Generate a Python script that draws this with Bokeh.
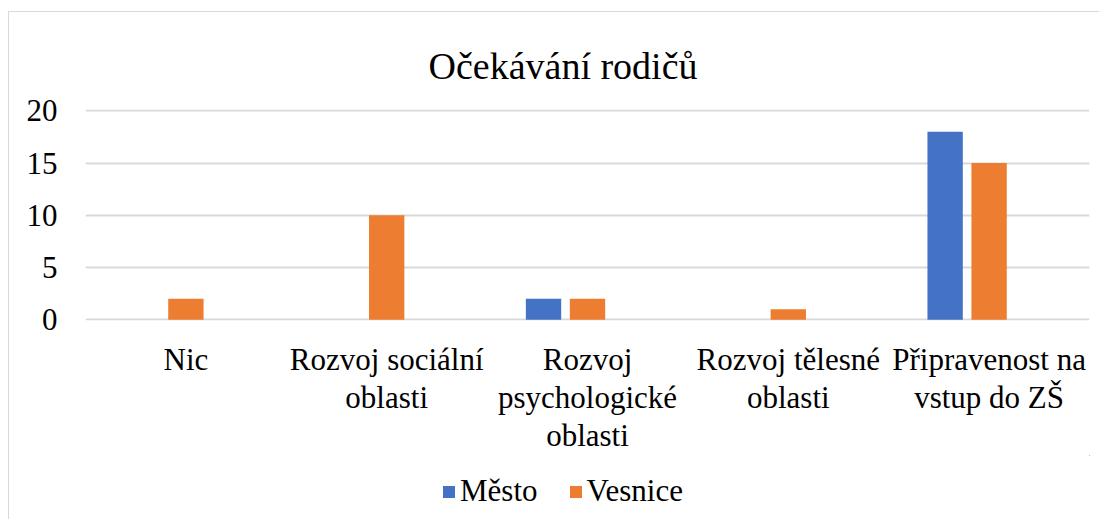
from bokeh.plotting import figure
from bokeh.models import ColumnDataSource, Range1d, FixedTicker, LinearAxis
from bokeh.layouts import column
from bokeh.transform import dodge
from bokeh.embed import file_html
from bokeh.resources import INLINE

categories = ["Nic", "Rozvoj sociální oblasti", "Rozvoj psychologické oblasti",
              "Rozvoj tělesné oblasti", "Připravenost na vstup do ZŠ"]
category_lines = [["Nic"], ["Rozvoj sociální", "oblasti"], ["Rozvoj", "psychologické", "oblasti"],
                  ["Rozvoj tělesné", "oblasti"], ["Připravenost na", "vstup do ZŠ"]]
mesto = [0, 0, 2, 0, 18]
vesnice = [2, 10, 2, 1, 15]
series_names = ["Město", "Vesnice"]
series_colors = ["#4472C4", "#ED7D31"]
y_ticks = [0, 5, 10, 15, 20]
title_text = "Očekávání rodičů"

FONT = "Liberation Serif"

n = len(categories)
centers = [i + 0.5 for i in range(n)]  # slot centre of each category on the x scale
source = ColumnDataSource(data=dict(pos=centers, cat=categories, mesto=mesto, vesnice=vesnice))

p = figure(
    x_range=Range1d(0, n),
    y_range=Range1d(-0.07, 20.12),
    width=1090, height=443,
    output_backend="svg", toolbar_location=None, x_axis_location=None,
    min_border_left=76, min_border_right=10, min_border_top=97, min_border_bottom=134,
)

p.vbar(x=dodge("pos", -0.219), top="mesto", width=0.176, source=source,
       fill_color=series_colors[0], line_color=None)
p.vbar(x=dodge("pos", 0.0), top="vesnice", width=0.176, source=source,
       fill_color=series_colors[1], line_color=None)

p.outline_line_color = None
p.background_fill_color = "white"
p.border_fill_color = "white"

p.xgrid.grid_line_color = None
p.ygrid.grid_line_color = "#d9d9d9"
p.ygrid.grid_line_width = 2
p.yaxis.ticker = FixedTicker(ticks=y_ticks)


def style_axis(ax):
    ax.axis_line_color = None
    ax.major_tick_line_color = None
    ax.minor_tick_line_color = None
    ax.major_tick_out = 0
    ax.major_tick_in = 0
    ax.major_label_text_font = FONT
    ax.major_label_text_font_size = "31px"
    ax.major_label_text_color = "black"


style_axis(p.yaxis[0])
p.yaxis.major_label_standoff = 28

# category labels: one axis per text line
standoffs = [21, 0, 0]
for line_no in range(3):
    ax = LinearAxis(ticker=FixedTicker(ticks=centers))
    style_axis(ax)
    ax.major_label_standoff = standoffs[line_no]
    ax.major_label_overrides = {c: (lines[line_no] if line_no < len(lines) else "")
                                for c, lines in zip(centers, category_lines)}
    p.add_layout(ax, "below")

p.title.text = title_text
p.title.text_font = FONT
p.title.text_font_size = "38px"
p.title.text_font_style = "normal"
p.title.text_color = "black"
p.title.align = "left"
p.title.offset = 343
p.title.standoff = 45

# legend row: legend entries backed by the same series, bars kept out of this strip's view
p2 = figure(width=1090, height=64, output_backend="svg", toolbar_location=None,
            x_range=Range1d(-20, -19), y_range=Range1d(-30, -29),
            x_axis_location=None, y_axis_location=None,
            min_border_left=76, min_border_right=10, min_border_top=0, min_border_bottom=0)
p2.grid.visible = False
p2.outline_line_color = None
p2.border_fill_color = "white"
p2.background_fill_color = "white"
for col, name, color in zip(["mesto", "vesnice"], series_names, series_colors):
    p2.vbar(x="pos", top=col, width=0.176, source=source,
            fill_color=color, line_color=None, legend_label=name)

lg = p2.legend[0]
lg.location = (356, 10)
lg.orientation = "horizontal"
lg.padding = 0
lg.margin = 0
lg.border_line_color = None
lg.background_fill_alpha = 0
lg.glyph_width = 15
lg.glyph_height = 15
lg.label_standoff = 4
lg.spacing = 30
lg.label_text_font = FONT
lg.label_text_font_size = "31px"
lg.label_text_color = "black"

layout = column(p, p2, spacing=0)
layout.styles = {"margin-top": "11px", "margin-left": "8px",
                 "border-left": "1px solid #d9d9d9", "border-top": "1px solid #d9d9d9"}

open("out.html", "w").write(file_html(layout, INLINE))
